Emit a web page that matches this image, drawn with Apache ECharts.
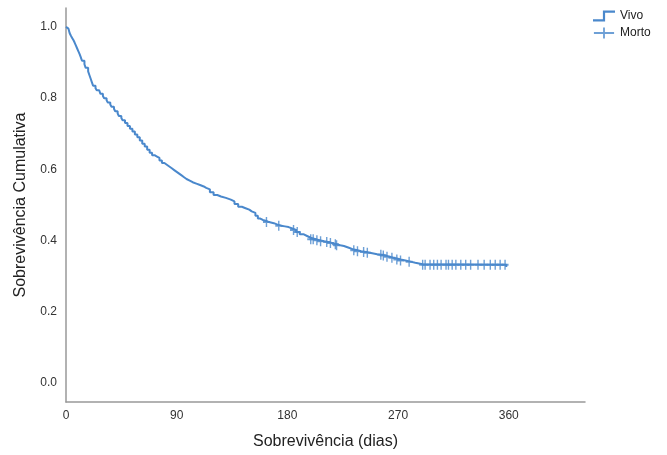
<!DOCTYPE html>
<html>
<head>
<meta charset="utf-8">
<script src="https://cdn.jsdelivr.net/npm/echarts@6/dist/echarts.min.js"></script>
<style>
  html, body { margin: 0; padding: 0; background: #fff; }
  #main { width: 667px; height: 455px; }
</style>
</head>
<body>
<div id="main"></div>
<script>
// Kaplan-Meier steps (day, cumulative survival)
let eventDays = [0, 1, 2, 3, 4, 5, 6, 7, 8, 9, 10, 11, 12, 13, 15, 16, 18, 19, 20, 21, 22, 24,
  25, 27, 28, 30, 31, 33, 34, 36, 37, 39, 40, 42, 43, 45, 46, 48, 50, 52, 54, 56, 58, 60, 62,
  64, 66, 68, 70, 72, 74, 76, 78, 80, 82, 84, 86, 88, 90, 92, 94, 96, 98, 101, 103, 106, 109,
  112, 114, 117, 120, 123, 126, 130, 134, 137, 140, 143, 146, 149, 151, 154, 156, 158, 160,
  163, 165, 169, 172, 175, 178, 181, 184, 187, 190, 193, 196, 199, 203, 206, 210, 213, 217,
  220, 223, 226, 230, 233, 237, 240, 244, 247, 250, 253, 257, 260, 263, 266, 269, 272, 276,
  280, 284, 287, 290, 358];
let survival = [1.0, 0.995, 0.99, 0.982, 0.975, 0.969, 0.963, 0.956, 0.948, 0.94, 0.932, 0.924,
  0.915, 0.905, 0.895, 0.885, 0.875, 0.865, 0.855, 0.845, 0.835, 0.828, 0.822, 0.817, 0.812,
  0.806, 0.8, 0.794, 0.788, 0.782, 0.776, 0.77, 0.763, 0.757, 0.75, 0.744, 0.738, 0.73, 0.722,
  0.714, 0.706, 0.698, 0.69, 0.681, 0.672, 0.664, 0.655, 0.647, 0.64, 0.636, 0.632, 0.625,
  0.618, 0.613, 0.608, 0.603, 0.598, 0.593, 0.588, 0.583, 0.578, 0.573, 0.568, 0.564, 0.56,
  0.556, 0.552, 0.548, 0.544, 0.536, 0.528, 0.524, 0.52, 0.515, 0.51, 0.503, 0.495, 0.491,
  0.487, 0.482, 0.478, 0.47, 0.462, 0.458, 0.455, 0.452, 0.449, 0.445, 0.442, 0.44, 0.438,
  0.434, 0.43, 0.424, 0.418, 0.413, 0.408, 0.404, 0.401, 0.398, 0.396, 0.393, 0.39, 0.387,
  0.385, 0.38, 0.376, 0.373, 0.37, 0.368, 0.366, 0.364, 0.362, 0.36, 0.358, 0.355, 0.352,
  0.35, 0.347, 0.344, 0.341, 0.338, 0.336, 0.334, 0.332, 0.326, 0.326];
// censored cases (days)
let censoredDays = [163, 173, 185, 188, 199, 201, 204, 207, 212, 215, 219, 220, 234, 237, 242,
  245, 256, 258, 261, 265, 269, 272, 279, 290, 292, 296, 299, 302, 305, 309, 311, 314, 317,
  321, 325, 329, 335, 340, 345, 349, 353, 357];
let xTicks = [0, 90, 180, 270, 360];
let yTicks = [0, 0.2, 0.4, 0.6, 0.8, 1.0];

let blue = "#4a88cc";
let font = "Liberation Sans, Arial, sans-serif";

function survivalAt(day) {
  let s = survival[0];
  for (let i = 0; i < eventDays.length; i++) {
    if (eventDays[i] <= day) s = survival[i];
  }
  return s;
}

let lineData = [];
for (let i = 0; i < eventDays.length; i++) {
  lineData.push([eventDays[i], survival[i]]);
}
let censorData = [];
for (let i = 0; i < censoredDays.length; i++) {
  censorData.push([censoredDays[i], survivalAt(censoredDays[i])]);
}

let plusPath = "path://M4,0h2v4h4v2h-4v4h-2v-4h-4v-2h4z";
let legendPlus = "path://M10,0h2v5h10v2h-10v5h-2v-5h-10v-2h10z";
let stepPath = "path://M0,8h9v-8h11v2h-9v8h-11z";

let myChart = echarts.init(document.getElementById("main"));
let option = {
  animation: false,
  grid: { left: 66, right: 82, top: 8, bottom: 53 },
  legend: {
    orient: "vertical",
    left: 588,
    top: 5,
    itemGap: 5,
    itemWidth: 22,
    itemHeight: 11,
    textStyle: { fontFamily: font, fontSize: 12, color: "#222" },
    data: [
      { name: "Vivo", icon: stepPath },
      { name: "Morto", icon: legendPlus }
    ]
  },
  xAxis: {
    type: "value",
    min: 0,
    max: 422,
    name: "Sobrevivência (dias)",
    nameLocation: "middle",
    nameGap: 32,
    nameTextStyle: { fontFamily: font, fontSize: 16, color: "#222" },
    axisLine: { onZero: false, lineStyle: { color: "#999", width: 1.5 } },
    axisTick: { show: false },
    splitLine: { show: false },
    axisLabel: {
      customValues: xTicks,
      margin: 8,
      fontFamily: font,
      fontSize: 12,
      color: "#333"
    }
  },
  yAxis: {
    type: "value",
    min: -0.053,
    max: 1.053,
    name: "Sobrevivência Cumulativa",
    nameLocation: "middle",
    nameGap: 37,
    nameTextStyle: { fontFamily: font, fontSize: 16, color: "#222" },
    axisLine: { show: true, onZero: false, lineStyle: { color: "#999", width: 1.5 } },
    axisTick: { show: false },
    splitLine: { show: false },
    axisLabel: {
      customValues: yTicks,
      margin: 9,
      fontFamily: font,
      fontSize: 12,
      color: "#333",
      formatter: function (v) { return v.toFixed(1); }
    }
  },
  series: [
    {
      name: "Vivo",
      type: "line",
      step: "end",
      data: lineData,
      showSymbol: false,
      symbol: "none",
      lineStyle: { color: blue, width: 2 },
      itemStyle: { color: blue }
    },
    {
      name: "Morto",
      type: "scatter",
      data: censorData,
      symbol: plusPath,
      symbolSize: [7, 10],
      itemStyle: { color: blue }
    }
  ]
};
myChart.setOption(option);
</script>
</body>
</html>
